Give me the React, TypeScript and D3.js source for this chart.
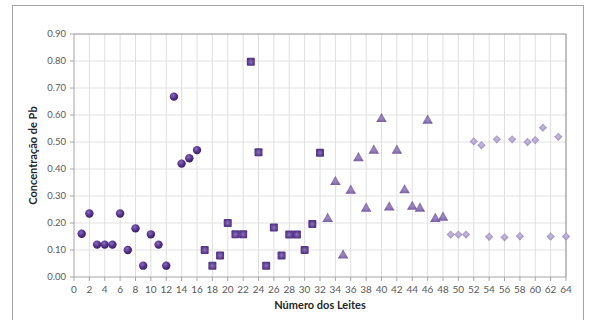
import React from "react";
import * as d3 from "d3";

const circleX = [1, 2, 3, 4, 5, 6, 7, 8, 9, 10, 11, 12, 13, 14, 15, 16];
const circleY = [0.16, 0.235, 0.12, 0.12, 0.12, 0.235, 0.1, 0.18, 0.042, 0.158, 0.12, 0.042, 0.668, 0.42, 0.44, 0.47];
const squareX = [17, 18, 19, 20, 21, 22, 23, 24, 25, 26, 27, 28, 29, 30, 31, 32];
const squareY = [0.1, 0.042, 0.08, 0.2, 0.158, 0.158, 0.797, 0.462, 0.042, 0.183, 0.08, 0.157, 0.157, 0.1, 0.196, 0.46];
const triangleX = [33, 34, 35, 36, 37, 38, 39, 40, 41, 42, 43, 44, 45, 46, 47, 48];
const triangleY = [0.215, 0.352, 0.08, 0.32, 0.44, 0.253, 0.468, 0.585, 0.258, 0.468, 0.321, 0.26, 0.253, 0.579, 0.215, 0.22];
const diamondX = [49, 50, 51, 52, 53, 54, 55, 56, 57, 58, 59, 60, 61, 62, 63, 64];
const diamondY = [0.157, 0.157, 0.157, 0.502, 0.488, 0.149, 0.51, 0.147, 0.51, 0.151, 0.5, 0.507, 0.553, 0.15, 0.519, 0.15];

const xTicks = d3.range(0, 65, 2);
const yTicks = d3.range(0, 0.91, 0.1);

const FONT = "Lato, 'Open Sans', sans-serif";

export default function App() {
  const left = 74, right = 566, top = 34, bottom = 277;
  const x = d3.scaleLinear().domain([0, 64]).range([left, right]);
  const y = d3.scaleLinear().domain([0, 0.9]).range([bottom, top]);

  const tri = d3.symbol().type(d3.symbolTriangle).size(48)();
  const dia = d3.symbol().type(d3.symbolDiamond2).size(44)();

  return (
    <svg width={591} height={320} style={{ position: "absolute", left: 0, top: 0 }}>
      <defs>
        <radialGradient id="gC" cx="40%" cy="35%" r="65%">
          <stop offset="0%" stopColor="#8a6cc0" />
          <stop offset="60%" stopColor="#54318a" />
          <stop offset="100%" stopColor="#3a1f66" />
        </radialGradient>
        <radialGradient id="gS" cx="50%" cy="50%" r="70%">
          <stop offset="0%" stopColor="#8e74bb" />
          <stop offset="55%" stopColor="#5e3d92" />
          <stop offset="100%" stopColor="#45286f" />
        </radialGradient>
        <radialGradient id="gT" cx="50%" cy="55%" r="70%">
          <stop offset="0%" stopColor="#9f8ac4" />
          <stop offset="100%" stopColor="#6a5096" />
        </radialGradient>
        <radialGradient id="gD" cx="50%" cy="45%" r="70%">
          <stop offset="0%" stopColor="#c8bde0" />
          <stop offset="100%" stopColor="#8c7ab2" />
        </radialGradient>
      </defs>
      <rect x={0} y={0} width={591} height={320} fill="#fff" />
      <rect x={12.5} y={5.5} width={571} height={320} fill="#fff" stroke="#a6a6a6" strokeWidth={1} />

      {/* grid */}
      {xTicks.filter(t => t > 0 && t < 64).map(t => (
        <line key={"gx" + t} x1={x(t)} x2={x(t)} y1={top} y2={bottom} stroke="#dedede" strokeWidth={1} />
      ))}
      {yTicks.filter(t => t > 0.001 && t < 0.899).map(t => (
        <line key={"gy" + t} x1={left} x2={right} y1={y(t)} y2={y(t)} stroke="#e2e2e2" strokeWidth={1} />
      ))}

      {/* plot border */}
      <line x1={left} x2={right} y1={top} y2={top} stroke="#909090" strokeWidth={1} />
      <line x1={right} x2={right} y1={top} y2={bottom} stroke="#808080" strokeWidth={1} />
      <line x1={left} x2={left} y1={top} y2={bottom} stroke="#a6a6a6" strokeWidth={1} />
      <line x1={left} x2={right} y1={bottom} y2={bottom} stroke="#a6a6a6" strokeWidth={1} />

      {/* ticks */}
      {yTicks.map(t => (
        <line key={"ty" + t} x1={left - 4} x2={left} y1={y(t)} y2={y(t)} stroke="#a6a6a6" />
      ))}
      {xTicks.map(t => (
        <line key={"tx" + t} x1={x(t)} x2={x(t)} y1={bottom} y2={bottom + 4} stroke="#a6a6a6" />
      ))}

      {yTicks.map(t => (
        <text key={"ly" + t} x={left - 8} y={y(t)} dy="0.35em" textAnchor="end" fontFamily={FONT} fontSize={9.5} fill="#595959">
          {t.toFixed(2)}
        </text>
      ))}
      {xTicks.map(t => (
        <text key={"lx" + t} x={x(t)} y={bottom + 16} textAnchor="middle" fontFamily={FONT} fontSize={10} fill="#595959">
          {t}
        </text>
      ))}

      <text x={320} y={309} textAnchor="middle" fontFamily={FONT} fontSize={11} fontWeight="bold" fill="#262626">
        Número dos Leites
      </text>
      <text transform={`translate(37,${(top + bottom) / 2}) rotate(-90)`} textAnchor="middle" fontFamily={FONT} fontSize={11} fontWeight="bold" fill="#262626">
        Concentração de Pb
      </text>

      {/* markers */}
      {circleX.map((v, i) => (
        <circle key={"c" + i} cx={x(v)} cy={y(circleY[i])} r={4.2} fill="url(#gC)" />
      ))}
      {squareX.map((v, i) => (
        <rect key={"s" + i} x={x(v) - 4} y={y(squareY[i]) - 4} width={8} height={8} rx={1} fill="url(#gS)" />
      ))}
      {triangleX.map((v, i) => (
        <path key={"t" + i} d={tri} transform={`translate(${x(v)},${y(triangleY[i])})`} fill="url(#gT)" />
      ))}
      {diamondX.map((v, i) => (
        <path key={"d" + i} d={dia} transform={`translate(${x(v)},${y(diamondY[i])})`} fill="url(#gD)" />
      ))}
    </svg>
  );
}
